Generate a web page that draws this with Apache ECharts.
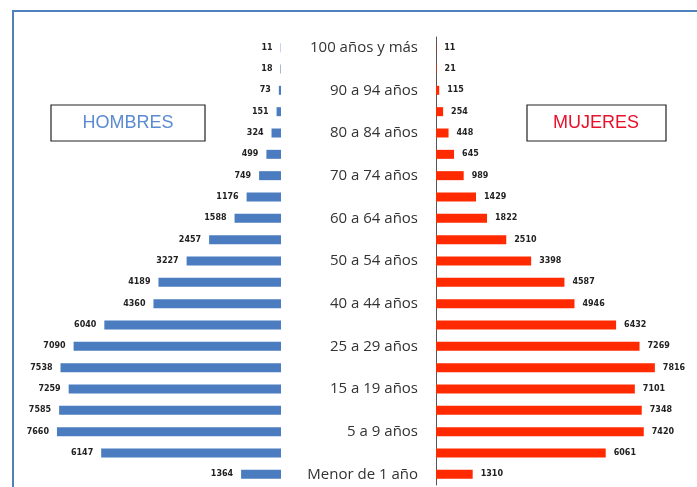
<!DOCTYPE html>
<html>
<head>
<meta charset="utf-8">
<script src="https://cdn.jsdelivr.net/npm/echarts@6/dist/echarts.min.js"></script>
<style>
    html, body { margin: 0; padding: 0; background: #fff; }
    #graph { width: 697px; height: 487px; }
</style>
</head>
<body>
<div id="graph"></div>
<script>
// grupos de edad, de abajo hacia arriba
var edades = ['Menor de 1 año', '1 a 4 años', '5 a 9 años', '10 a 14 años', '15 a 19 años',
    '20 a 24 años', '25 a 29 años', '30 a 39 años', '40 a 44 años', '45 a 49 años',
    '50 a 54 años', '55 a 59 años', '60 a 64 años', '65 a 69 años', '70 a 74 años',
    '75 a 79 años', '80 a 84 años', '85 a 89 años', '90 a 94 años', '95 a 99 años',
    '100 años y más'];
var hombres = [1364, 6147, 7660, 7585, 7259, 7538, 7090, 6040, 4360, 4189,
    3227, 2457, 1588, 1176, 749, 499, 324, 151, 73, 18, 11];
var mujeres = [1310, 6061, 7420, 7348, 7101, 7816, 7269, 6432, 4946, 4587,
    3398, 2510, 1822, 1429, 989, 645, 448, 254, 115, 21, 11];

var azul = '#4a7cbf';
var rojo = '#ff2a00';

var labelStyle = {
    show: true,
    fontSize: 8,
    fontWeight: 'bold',
    fontFamily: 'DejaVu Sans',
    color: '#222',
    distance: 8
};

var chart = echarts.init(document.getElementById('graph'));

var option = {
    animation: false,
    backgroundColor: '#fff',
    grid: [
        {left: 47, right: 416, top: 37, bottom: 2},   // hombres
        {left: 436, right: 37, top: 37, bottom: 2}    // mujeres
    ],
    xAxis: [{
        gridIndex: 0, type: 'value', min: 0, max: 8000, inverse: true, show: false
    }, {
        gridIndex: 1, type: 'value', min: 0, max: 8000, show: false
    }],
    yAxis: [{
        gridIndex: 0, type: 'category', data: edades, position: 'right',
        axisLine: {show: false}, axisTick: {show: false}, axisLabel: {show: false}
    }, {
        gridIndex: 1, type: 'category', data: edades,
        axisLine: {show: true, lineStyle: {color: '#555', width: 1}},
        axisTick: {show: false},
        axisLabel: {
            interval: 1,
            margin: 18,
            fontSize: 15,
            color: '#333',
            fontFamily: 'Open Sans'
        }
    }],
    series: [{
        name: 'Hombres', type: 'bar', xAxisIndex: 0, yAxisIndex: 0,
        data: hombres, barWidth: 9,
        itemStyle: {color: azul},
        label: Object.assign({position: 'left'}, labelStyle)
    }, {
        name: 'Mujeres', type: 'bar', xAxisIndex: 1, yAxisIndex: 1,
        data: mujeres, barWidth: 9,
        itemStyle: {color: rojo},
        label: Object.assign({position: 'right'}, labelStyle)
    }],
    graphic: [
        // marco exterior (solo arriba e izquierda)
        {type: 'polyline', shape: {points: [[13, 487], [13, 11], [697, 11]]},
            style: {stroke: '#4f81bd', lineWidth: 2, fill: null}},
        {type: 'rect', shape: {x: 51, y: 105, width: 154, height: 36},
            style: {fill: '#fff', stroke: '#222', lineWidth: 1.2}},
        {type: 'text', x: 128, y: 123,
            style: {text: 'HOMBRES', fill: '#5b8bd0', fontSize: 18, fontFamily: 'Liberation Sans',
                align: 'center', verticalAlign: 'middle'}},
        {type: 'rect', shape: {x: 527, y: 105, width: 139, height: 36},
            style: {fill: '#fff', stroke: '#222', lineWidth: 1.2}},
        {type: 'text', x: 596, y: 123,
            style: {text: 'MUJERES', fill: '#e8102a', fontSize: 18, fontFamily: 'Liberation Sans',
                align: 'center', verticalAlign: 'middle'}}
    ]
};

chart.setOption(option);
</script>
</body>
</html>
